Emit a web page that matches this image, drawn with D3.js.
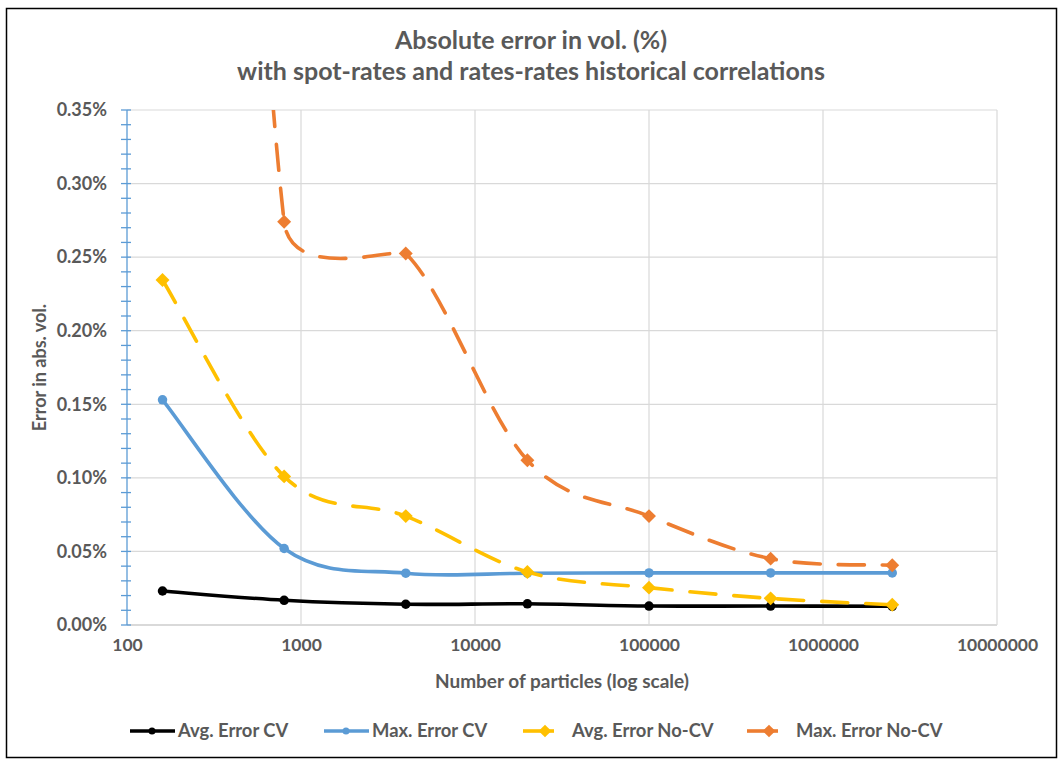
<!DOCTYPE html>
<html>
<head>
<meta charset="utf-8">
<script src="https://cdn.jsdelivr.net/npm/d3@7"></script>
<style>
  body { margin: 0; background: #fff; }
  svg text { font-family: Lato, "Open Sans", sans-serif; font-weight: bold; fill: #595959; }
</style>
</head>
<body>
<svg id="chart" width="1063" height="767"></svg>
<script>
// particles count (x, log scale)
const particles = [160, 800, 4000, 20000, 100000, 500000, 2500000];

// errors, in % of vol
const avgErrorCV   = [0.0231, 0.0168, 0.0141, 0.0144, 0.0129, 0.0129, 0.0127];
const maxErrorCV   = [0.153, 0.052, 0.0352, 0.0352, 0.0354, 0.0354, 0.0354];
const avgErrorNoCV = [0.2345, 0.101, 0.074, 0.036, 0.0254, 0.0181, 0.0137];
const maxErrorNoCV = [1.7, 0.274, 0.2525, 0.112, 0.074, 0.0451, 0.0406];

const seriesNames = ['Avg. Error CV', 'Max. Error CV', 'Avg. Error No-CV', 'Max. Error No-CV'];
const xTicks = [100, 1000, 10000, 100000, 1000000, 10000000];
const yTicks = [0, 0.05, 0.10, 0.15, 0.20, 0.25, 0.30, 0.35];
const yMinorTicks = d3.range(0, 0.3501, 0.01);

const titleLines = ['Absolute error in vol. (%)', 'with spot-rates and rates-rates historical correlations'];

const series = [
  { name: seriesNames[0], values: avgErrorCV,   color: '#000000', dash: null,    marker: 'circle' },
  { name: seriesNames[1], values: maxErrorCV,   color: '#5B9BD5', dash: null,    marker: 'circle' },
  { name: seriesNames[2], values: avgErrorNoCV, color: '#FFC000', dash: '26,18', marker: 'diamond' },
  { name: seriesNames[3], values: maxErrorNoCV, color: '#ED7D31', dash: '26,18', marker: 'diamond' },
];

// spreadsheet-style smoothed line: bezier segments, control arms 1/6 of the
// neighbour chord, shortened when they would be longer than half the segment
function CurveSmooth(context) { this._context = context; }
CurveSmooth.prototype = {
  areaStart() {}, areaEnd() {},
  lineStart() { this._pts = []; },
  point(x, y) { this._pts.push([+x, +y]); },
  lineEnd() {
    const p = this._pts, n = p.length, ctx = this._context;
    const dist = (a, b) => Math.hypot(b[0] - a[0], b[1] - a[1]);
    if (!n) return;
    ctx.moveTo(p[0][0], p[0][1]);
    for (let i = 0; i < n - 1; i++) {
      const p0 = p[i - 1] || p[i], p1 = p[i], p2 = p[i + 1], p3 = p[i + 2] || p[i + 1];
      const d02 = dist(p0, p2), d12 = dist(p1, p2), d13 = dist(p1, p3);
      let f0 = 1 / 6, f3 = 1 / 6;
      const big02 = d02 / 6 >= d12 / 2, big13 = d13 / 6 >= d12 / 2;
      if (big02 && big13) { f0 = d12 / 2 / d02; f3 = d12 / 2 / d13; }
      else if (big02) { f0 = f3 = d12 / 2 / d02; }
      else if (big13) { f0 = f3 = d12 / 2 / d13; }
      ctx.bezierCurveTo(
        p1[0] + f0 * (p2[0] - p0[0]), p1[1] + f0 * (p2[1] - p0[1]),
        p2[0] - f3 * (p3[0] - p1[0]), p2[1] - f3 * (p3[1] - p1[1]),
        p2[0], p2[1]);
    }
  }
};
const curveSmooth = context => new CurveSmooth(context);

const svg = d3.select('#chart');
const plot = { left: 127, right: 997, top: 110, bottom: 625 };

// outer frame
svg.append('rect')
  .attr('x', 6.5).attr('y', 8.5).attr('width', 1050).attr('height', 749)
  .attr('fill', '#fff').attr('stroke', '#000').attr('stroke-width', 1.5);

const x = d3.scaleLog().domain([100, 10000000]).range([plot.left, plot.right]);
const y = d3.scaleLinear().domain([0, 0.35]).range([plot.bottom, plot.top]);

// gridlines
svg.append('g').selectAll('line.h').data(yTicks.slice(1)).join('line')
  .attr('x1', plot.left).attr('x2', plot.right)
  .attr('y1', d => y(d)).attr('y2', d => y(d))
  .attr('stroke', '#D9D9D9').attr('stroke-width', 1.2);
svg.append('g').selectAll('line.v').data(xTicks.slice(1)).join('line')
  .attr('x1', d => x(d)).attr('x2', d => x(d))
  .attr('y1', plot.top).attr('y2', plot.bottom)
  .attr('stroke', '#D9D9D9').attr('stroke-width', 1.2);

// x axis line (gray) + labels
svg.append('line')
  .attr('x1', plot.left).attr('x2', plot.right)
  .attr('y1', plot.bottom).attr('y2', plot.bottom)
  .attr('stroke', '#D9D9D9').attr('stroke-width', 2);

const xAxis = d3.axisBottom(x).tickValues(xTicks).tickFormat(d3.format('d')).tickSize(0).tickPadding(14);
const gx = svg.append('g').attr('transform', `translate(0,${plot.bottom})`).call(xAxis);
gx.select('.domain').remove();
gx.selectAll('text').style('font-size', '17.5px');

// y axis: blue line with crossing ticks
const gy = svg.append('g');
gy.append('line')
  .attr('x1', plot.left).attr('x2', plot.left)
  .attr('y1', plot.top).attr('y2', plot.bottom)
  .attr('stroke', '#5B9BD5').attr('stroke-width', 1.3);
gy.selectAll('line.tick').data(yMinorTicks).join('line')
  .attr('x1', plot.left - 6).attr('x2', plot.left + 4)
  .attr('y1', d => y(d)).attr('y2', d => y(d))
  .attr('stroke', '#5B9BD5').attr('stroke-width', 1.3);
gy.selectAll('text').data(yTicks).join('text')
  .attr('x', plot.left - 20).attr('y', d => y(d))
  .attr('dy', '0.35em').attr('text-anchor', 'end')
  .style('font-size', '18px')
  .text(d => d.toFixed(2) + '%');

// titles
svg.append('g').selectAll('text').data(titleLines).join('text')
  .attr('x', 531).attr('y', (d, i) => 49 + i * 31)
  .attr('text-anchor', 'middle').style('font-size', '25px')
  .text(d => d);

svg.append('text')
  .attr('x', 562).attr('y', 688).attr('text-anchor', 'middle')
  .style('font-size', '19px').text('Number of particles (log scale)');

svg.append('text')
  .attr('transform', `translate(46,${(plot.top + plot.bottom) / 2}) rotate(-90)`)
  .attr('text-anchor', 'middle').style('font-size', '18px')
  .text('Error in abs. vol.');

// clip lines to plot area
svg.append('clipPath').attr('id', 'plot-clip')
  .append('rect').attr('x', plot.left).attr('y', plot.top)
  .attr('width', plot.right - plot.left).attr('height', plot.bottom - plot.top);

const line = d3.line()
  .x((d, i) => x(particles[i]))
  .y(d => y(d))
  .curve(curveSmooth);

const diamond = d3.symbol().type(d3.symbolDiamond2);

const drawMarker = (sel, s, size) => {
  if (s.marker === 'circle') {
    sel.append('circle').attr('r', size / 2).attr('fill', s.color);
  } else {
    sel.append('path').attr('d', diamond.size(size * size * 1.6)()).attr('fill', s.color);
  }
};

const lines = svg.append('g').attr('clip-path', 'url(#plot-clip)');
series.forEach(s => {
  lines.append('path')
    .datum(s.values)
    .attr('d', line)
    .attr('fill', 'none')
    .attr('stroke', s.color)
    .attr('stroke-width', 3.6)
    .attr('stroke-linecap', 'round')
    .attr('stroke-dasharray', s.dash);

  s.values.forEach((v, i) => {
    const g = lines.append('g').attr('transform', `translate(${x(particles[i])},${y(v)})`);
    drawMarker(g, s, s.marker === 'circle' ? 9.5 : 8.8);
  });
});

// legend
const legendX = [130, 324, 523, 747];
const legendY = 731;
const legend = svg.append('g');
series.forEach((s, i) => {
  const g = legend.append('g').attr('transform', `translate(${legendX[i]},${legendY})`);
  g.append('line')
    .attr('x1', 0).attr('x2', s.dash ? 31 : 45).attr('y1', 0).attr('y2', 0)
    .attr('stroke', s.color).attr('stroke-width', 3.6);
  const m = g.append('g').attr('transform', 'translate(22,0)');
  drawMarker(m, s, s.marker === 'circle' ? 7 : 8);
  g.append('text')
    .attr('x', s.dash ? 49 : 48).attr('y', 0).attr('dy', '0.35em')
    .style('font-size', '18.4px')
    .text(s.name);
});
</script>
</body>
</html>
